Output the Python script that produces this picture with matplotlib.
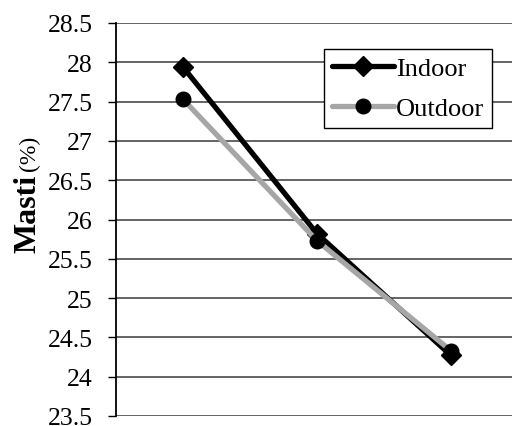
import matplotlib
matplotlib.use("Agg")
import matplotlib.pyplot as plt

# Moisture content (%) for three sampling stages
stages = [1, 2, 3]
indoor = [27.94, 25.82, 24.27]
outdoor = [27.53, 25.73, 24.33]
yticks = [23.5, 24, 24.5, 25, 25.5, 26, 26.5, 27, 27.5, 28, 28.5]

plt.rcParams['font.family'] = ['Liberation Serif', 'DejaVu Serif']

W, H = 512, 427
fig = plt.figure(figsize=(W / 100, H / 100), dpi=100)
ax = fig.add_axes([116 / W, 1 - 417 / H, 402 / W, 393 / H])

ax.set_xlim(0.5, 3.5)
ax.set_ylim(23.5, 28.5)
ax.set_yticks(yticks)
ax.set_yticklabels([f"{v:g}" for v in yticks], fontsize=18.5)
ax.set_xticks([])
ax.yaxis.grid(True, color='#3a3a3a', linewidth=1.1)
ax.set_axisbelow(True)
for s in ['top', 'right', 'bottom']:
    ax.spines[s].set_visible(False)
ax.spines['left'].set_linewidth(1.3)
ax.tick_params(axis='y', direction='out', length=6, width=1.0, pad=11)

ax.plot(stages, indoor, color='black', lw=3.8, marker='D', ms=10,
        mfc='black', mec='black', label='Indoor', solid_capstyle='round')
ax.plot(stages, outdoor, color='#a6a6a6', lw=3.8, marker='o', ms=10.5,
        mfc='black', mec='black', label='Outdoor', solid_capstyle='round')

leg = ax.legend(loc='upper left', bbox_to_anchor=(324 / W, 1 - 50 / H),
                bbox_transform=fig.transFigure, borderaxespad=0,
                fontsize=19, frameon=True, fancybox=False, edgecolor='black',
                handlelength=2.35, handletextpad=0.08, borderpad=0.3,
                labelspacing=0.62)
leg.get_frame().set_linewidth(1.0)
leg.get_frame().set_alpha(1)

fig.text(35 / W, 1 - 253 / H, "Masti", rotation=90, rotation_mode='anchor',
         ha='left', va='baseline', fontsize=23, fontweight='bold')
fig.text(35 / W, 1 - 171 / H, "(%)", rotation=90, rotation_mode='anchor',
         ha='left', va='baseline', fontsize=17)

fig.savefig('out.png', dpi=100)
